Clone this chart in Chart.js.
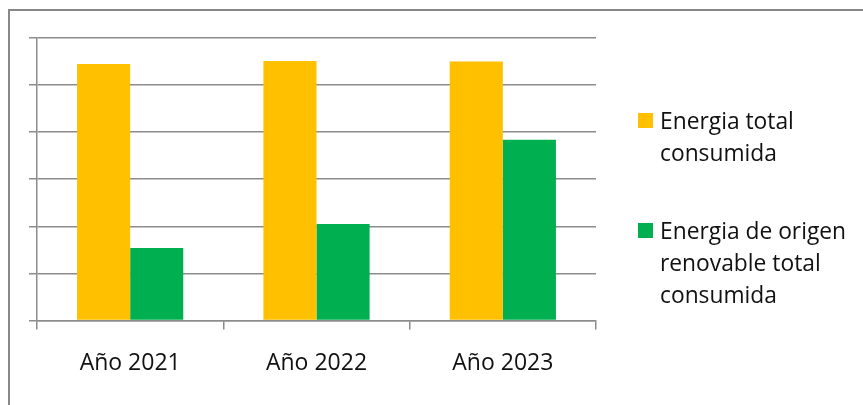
<!DOCTYPE html>
<html>
<head>
<meta charset="utf-8">
<script src="https://cdn.jsdelivr.net/npm/chart.js@4.4.1/dist/chart.umd.min.js"></script>
<style>
  html, body { margin: 0; padding: 0; background: #fff; overflow: hidden; }
  #wrap { position: relative; width: 863px; height: 405px; }
  #frame {
    position: absolute; left: 8px; top: 9px; width: 900px; height: 450px;
    border-left: 2px solid #888; border-top: 2px solid #888;
  }
  canvas { position: absolute; left: 0; top: 0; }
  #legend {
    position: absolute; left: 638px; top: 105px; width: 222px;
    font-family: "Open Sans", sans-serif; font-size: 22.8px; line-height: 32px; color: #111;
  }
  .item { display: flex; align-items: flex-start; margin-bottom: 46px; }
  .box { width: 15px; height: 15px; margin-top: 8px; margin-right: 7px; flex: none; }
</style>
</head>
<body>
<div id="wrap">
  <div id="frame"></div>
  <canvas id="chart" width="863" height="405"></canvas>
  <div id="legend"></div>
</div>
<script>
// Values (no axis labels shown, scale 0..6)
const years = ["Año 2021", "Año 2022", "Año 2023"];
const totalEnergy = [5.45, 5.51, 5.50];
const renewableEnergy = [1.54, 2.05, 3.84];
const seriesNames = ["Energia total consumida", "Energia de origen renovable total consumida"];
const seriesColors = ["#FFC000", "#00B050"];

const gridGray = "#8c8c8c";

const chart = new Chart(document.getElementById("chart"), {
  type: "bar",
  data: {
    labels: years,
    datasets: [
      { label: seriesNames[0], data: totalEnergy, backgroundColor: seriesColors[0] },
      { label: seriesNames[1], data: renewableEnergy, backgroundColor: seriesColors[1] },
    ],
  },
  options: {
    responsive: false,
    animation: false,
    layout: { padding: { left: 29, top: 38, right: 267, bottom: 8 } },
    plugins: { legend: { display: false }, tooltip: { enabled: false } },
    datasets: { bar: { categoryPercentage: 0.57, barPercentage: 1 } },
    scales: {
      x: {
        grid: { offset: true, drawOnChartArea: false, color: gridGray, lineWidth: 1.5, tickLength: 9 },
        border: { color: gridGray, width: 1.5 },
        ticks: { color: "#111", font: { family: "'Open Sans', sans-serif", size: 23 }, padding: 20 },
      },
      y: {
        min: 0,
        max: 6,
        ticks: { stepSize: 1, display: false },
        grid: { color: gridGray, lineWidth: 1.5, tickLength: 8 },
        border: { color: gridGray, width: 1.5 },
      },
    },
  },
});

// legend as html so the labels can wrap like the original
const legend = document.getElementById("legend");
chart.data.datasets.forEach((ds) => {
  const item = document.createElement("div");
  item.className = "item";
  item.innerHTML = '<span class="box" style="background:' + ds.backgroundColor + '"></span><span>' + ds.label + "</span>";
  legend.appendChild(item);
});
</script>
</body>
</html>
